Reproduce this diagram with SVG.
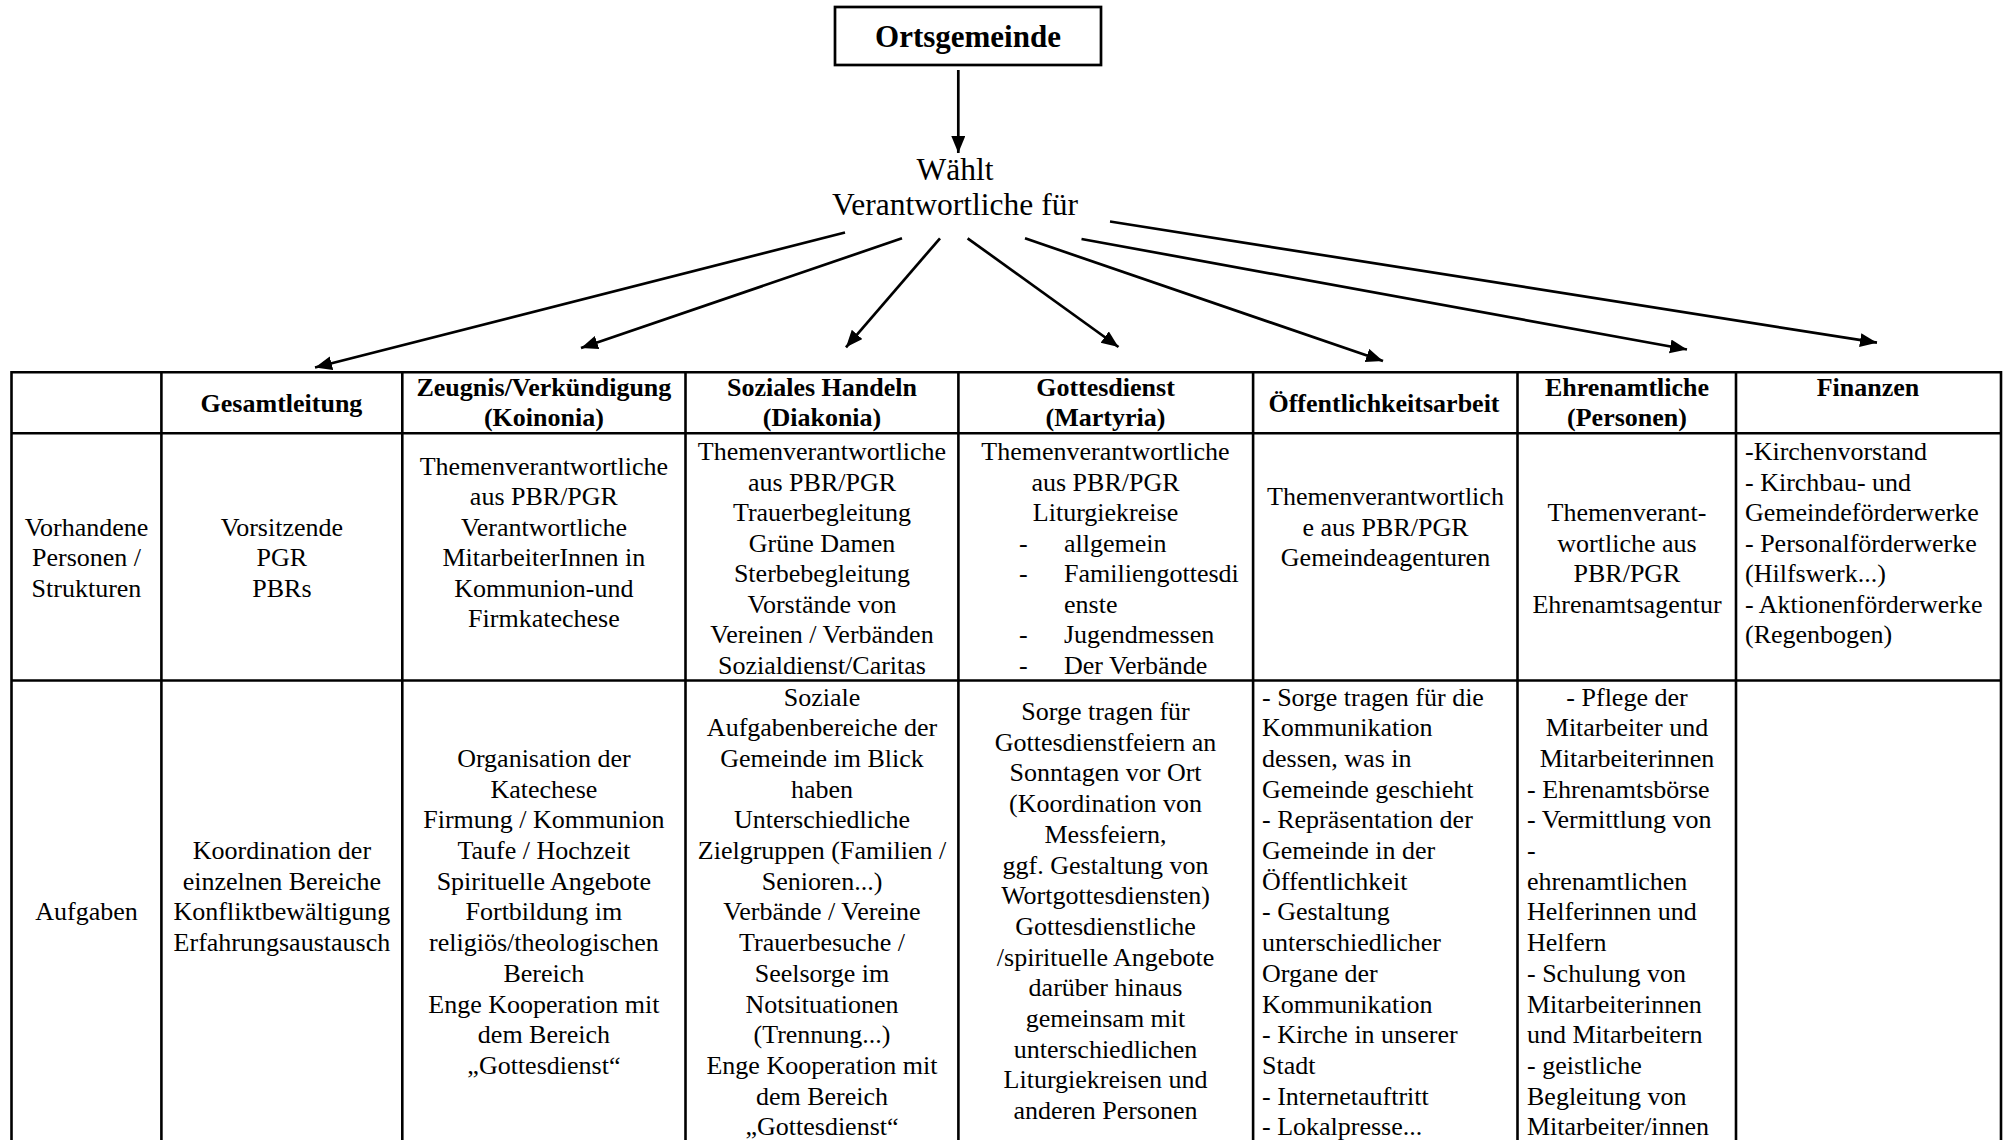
<svg xmlns="http://www.w3.org/2000/svg" width="2009" height="1140" viewBox="0 0 2009 1140">
<style>
text{font-family:"Liberation Serif","Times New Roman",serif;fill:#000}
.t{font-size:31.5px;text-anchor:middle}
.tb{font-size:31px;font-weight:bold;text-anchor:middle}
.b{font-size:26px;font-weight:bold;text-anchor:middle}
.c{font-size:26px;text-anchor:middle}
.l{font-size:26px;text-anchor:start}
.box{fill:#fff;stroke:#000;stroke-width:2.7}
.grid line{stroke:#000;stroke-width:2.6}
.conn line{stroke:#000;stroke-width:2.7;marker-end:url(#ah)}
</style>
<defs>
<marker id="ah" markerUnits="userSpaceOnUse" markerWidth="19" markerHeight="16" refX="17" refY="7" orient="auto">
<path d="M0,0 L17,7 L0,14 z" fill="#000"/>
</marker>
</defs>
<rect width="2009" height="1140" fill="#fff"/>

<g id="node-ortsgemeinde">
<rect class="box" x="835" y="7" width="266" height="58"/>
<text class="tb" x="968" y="47">Ortsgemeinde</text>
</g>

<g id="node-waehlt">
<text class="t"><tspan x="955" y="180">Wählt</tspan><tspan x="955" y="215">Verantwortliche für</tspan></text>
</g>

<g id="connectors" class="conn">
<line x1="958.3" y1="70" x2="958.3" y2="153"/>
<line x1="845" y1="232.5" x2="315" y2="367.5"/>
<line x1="902" y1="238.3" x2="581" y2="348"/>
<line x1="940" y1="238.3" x2="846" y2="347.3"/>
<line x1="967.6" y1="238.3" x2="1118.5" y2="347"/>
<line x1="1025" y1="238.3" x2="1383" y2="361"/>
<line x1="1081.5" y1="239" x2="1687" y2="349.5"/>
<line x1="1110" y1="221.5" x2="1877" y2="342.7"/>
</g>

<g id="table-grid" class="grid">
<line x1="11.5" y1="372.3" x2="2001" y2="372.3"/>
<line x1="11.5" y1="433.3" x2="2001" y2="433.3"/>
<line x1="11.5" y1="680.5" x2="2001" y2="680.5"/>
<line x1="11.5" y1="371" x2="11.5" y2="1145"/>
<line x1="161.4" y1="371" x2="161.4" y2="1145"/>
<line x1="402.3" y1="371" x2="402.3" y2="1145"/>
<line x1="685.5" y1="371" x2="685.5" y2="1145"/>
<line x1="958.4" y1="371" x2="958.4" y2="1145"/>
<line x1="1253.1" y1="371" x2="1253.1" y2="1145"/>
<line x1="1517.5" y1="371" x2="1517.5" y2="1145"/>
<line x1="1736" y1="371" x2="1736" y2="1145"/>
<line x1="2001" y1="371" x2="2001" y2="1145"/>
</g>

<g id="hdr-gesamtleitung"><text class="b" x="281.5" y="412">Gesamtleitung</text></g>
<g id="hdr-zeugnis"><text class="b"><tspan x="543.9" y="396">Zeugnis/Verkündigung</tspan><tspan x="543.9" y="426">(Koinonia)</tspan></text></g>
<g id="hdr-soziales"><text class="b"><tspan x="822" y="396">Soziales Handeln</tspan><tspan x="822" y="426">(Diakonia)</tspan></text></g>
<g id="hdr-gottesdienst"><text class="b"><tspan x="1105.5" y="396">Gottesdienst</tspan><tspan x="1105.5" y="426">(Martyria)</tspan></text></g>
<g id="hdr-oeffentlichkeit"><text class="b" x="1384" y="412">Öffentlichkeitsarbeit</text></g>
<g id="hdr-ehrenamtliche"><text class="b"><tspan x="1627" y="396">Ehrenamtliche</tspan><tspan x="1627" y="426">(Personen)</tspan></text></g>
<g id="hdr-finanzen"><text class="b" x="1868" y="396">Finanzen</text></g>

<g id="row1-label"><text class="c"><tspan x="86.5" y="535.5">Vorhandene</tspan><tspan x="86.5" y="566">Personen /</tspan><tspan x="86.5" y="596.5">Strukturen</tspan></text></g>
<g id="row1-gesamtleitung"><text class="c"><tspan x="281.9" y="535.5">Vorsitzende</tspan><tspan x="281.9" y="566">PGR</tspan><tspan x="281.9" y="596.5">PBRs</tspan></text></g>
<g id="row1-zeugnis"><text class="c"><tspan x="543.9" y="474.5">Themenverantwortliche</tspan><tspan x="543.9" y="505">aus PBR/PGR</tspan><tspan x="543.9" y="535.5">Verantwortliche</tspan><tspan x="543.9" y="566">MitarbeiterInnen in</tspan><tspan x="543.9" y="596.5">Kommunion-und</tspan><tspan x="543.9" y="627">Firmkatechese</tspan></text></g>
<g id="row1-soziales"><text class="c"><tspan x="822" y="460">Themenverantwortliche</tspan><tspan x="822" y="490.5">aus PBR/PGR</tspan><tspan x="822" y="521">Trauerbegleitung</tspan><tspan x="822" y="551.5">Grüne Damen</tspan><tspan x="822" y="582">Sterbebegleitung</tspan><tspan x="822" y="612.5">Vorstände von</tspan><tspan x="822" y="643">Vereinen / Verbänden</tspan><tspan x="822" y="673.5">Sozialdienst/Caritas</tspan></text></g>
<g id="row1-gottesdienst">
<text class="c"><tspan x="1105.5" y="460">Themenverantwortliche</tspan><tspan x="1105.5" y="490.5">aus PBR/PGR</tspan><tspan x="1105.5" y="521">Liturgiekreise</tspan></text>
<text class="l"><tspan x="1019" y="551.5">-</tspan><tspan x="1019" y="582">-</tspan><tspan x="1019" y="643">-</tspan><tspan x="1019" y="673.5">-</tspan></text>
<text class="l"><tspan x="1064" y="551.5">allgemein</tspan><tspan x="1064" y="582">Familiengottesdi</tspan><tspan x="1064" y="612.5">enste</tspan><tspan x="1064" y="643">Jugendmessen</tspan><tspan x="1064" y="673.5">Der Verbände</tspan></text>
</g>
<g id="row1-oeffentlichkeit"><text class="c"><tspan x="1385.5" y="505">Themenverantwortlich</tspan><tspan x="1385.5" y="535.5">e aus PBR/PGR</tspan><tspan x="1385.5" y="566">Gemeindeagenturen</tspan></text></g>
<g id="row1-ehrenamtliche"><text class="c"><tspan x="1627" y="521">Themenverant-</tspan><tspan x="1627" y="551.5">wortliche aus</tspan><tspan x="1627" y="582">PBR/PGR</tspan><tspan x="1627" y="612.5">Ehrenamtsagentur</tspan></text></g>
<g id="row1-finanzen"><text class="l"><tspan x="1745" y="460">-Kirchenvorstand</tspan><tspan x="1745" y="490.5">- Kirchbau- und</tspan><tspan x="1745" y="521">Gemeindeförderwerke</tspan><tspan x="1745" y="551.5">- Personalförderwerke</tspan><tspan x="1745" y="582">(Hilfswerk...)</tspan><tspan x="1745" y="612.5">- Aktionenförderwerke</tspan><tspan x="1745" y="643">(Regenbogen)</tspan></text></g>

<g id="row2-label"><text class="c" x="86.5" y="920.4">Aufgaben</text></g>
<g id="row2-gesamtleitung"><text class="c"><tspan x="281.9" y="859">Koordination der</tspan><tspan x="281.9" y="889.7">einzelnen Bereiche</tspan><tspan x="281.9" y="920.4">Konfliktbewältigung</tspan><tspan x="281.9" y="951.1">Erfahrungsaustausch</tspan></text></g>
<g id="row2-zeugnis"><text class="c"><tspan x="543.9" y="766.9">Organisation der</tspan><tspan x="543.9" y="797.6">Katechese</tspan><tspan x="543.9" y="828.3">Firmung / Kommunion</tspan><tspan x="543.9" y="859">Taufe / Hochzeit</tspan><tspan x="543.9" y="889.7">Spirituelle Angebote</tspan><tspan x="543.9" y="920.4">Fortbildung im</tspan><tspan x="543.9" y="951.1">religiös/theologischen</tspan><tspan x="543.9" y="981.8">Bereich</tspan><tspan x="543.9" y="1012.5">Enge Kooperation mit</tspan><tspan x="543.9" y="1043.2">dem Bereich</tspan><tspan x="543.9" y="1073.9">„Gottesdienst“</tspan></text></g>
<g id="row2-soziales"><text class="c"><tspan x="822" y="705.5">Soziale</tspan><tspan x="822" y="736.2">Aufgabenbereiche der</tspan><tspan x="822" y="766.9">Gemeinde im Blick</tspan><tspan x="822" y="797.6">haben</tspan><tspan x="822" y="828.3">Unterschiedliche</tspan><tspan x="822" y="859">Zielgruppen (Familien /</tspan><tspan x="822" y="889.7">Senioren...)</tspan><tspan x="822" y="920.4">Verbände / Vereine</tspan><tspan x="822" y="951.1">Trauerbesuche /</tspan><tspan x="822" y="981.8">Seelsorge im</tspan><tspan x="822" y="1012.5">Notsituationen</tspan><tspan x="822" y="1043.2">(Trennung...)</tspan><tspan x="822" y="1073.9">Enge Kooperation mit</tspan><tspan x="822" y="1104.6">dem Bereich</tspan><tspan x="822" y="1135.3">„Gottesdienst“</tspan></text></g>
<g id="row2-gottesdienst"><text class="c"><tspan x="1105.5" y="720">Sorge tragen für</tspan><tspan x="1105.5" y="750.7">Gottesdienstfeiern an</tspan><tspan x="1105.5" y="781.4">Sonntagen vor Ort</tspan><tspan x="1105.5" y="812.1">(Koordination von</tspan><tspan x="1105.5" y="842.8">Messfeiern,</tspan><tspan x="1105.5" y="873.5">ggf. Gestaltung von</tspan><tspan x="1105.5" y="904.2">Wortgottesdiensten)</tspan><tspan x="1105.5" y="934.9">Gottesdienstliche</tspan><tspan x="1105.5" y="965.6">/spirituelle Angebote</tspan><tspan x="1105.5" y="996.3">darüber hinaus</tspan><tspan x="1105.5" y="1027">gemeinsam mit</tspan><tspan x="1105.5" y="1057.7">unterschiedlichen</tspan><tspan x="1105.5" y="1088.4">Liturgiekreisen und</tspan><tspan x="1105.5" y="1119.1">anderen Personen</tspan></text></g>
<g id="row2-oeffentlichkeit"><text class="l"><tspan x="1262" y="705.5">- Sorge tragen für die</tspan><tspan x="1262" y="736.2">Kommunikation</tspan><tspan x="1262" y="766.9">dessen, was in</tspan><tspan x="1262" y="797.6">Gemeinde geschieht</tspan><tspan x="1262" y="828.3">- Repräsentation der</tspan><tspan x="1262" y="859">Gemeinde in der</tspan><tspan x="1262" y="889.7">Öffentlichkeit</tspan><tspan x="1262" y="920.4">- Gestaltung</tspan><tspan x="1262" y="951.1">unterschiedlicher</tspan><tspan x="1262" y="981.8">Organe der</tspan><tspan x="1262" y="1012.5">Kommunikation</tspan><tspan x="1262" y="1043.2">- Kirche in unserer</tspan><tspan x="1262" y="1073.9">Stadt</tspan><tspan x="1262" y="1104.6">- Internetauftritt</tspan><tspan x="1262" y="1135.3">- Lokalpresse...</tspan></text></g>
<g id="row2-ehrenamtliche">
<text class="c"><tspan x="1627" y="705.5">- Pflege der</tspan><tspan x="1627" y="736.2">Mitarbeiter und</tspan><tspan x="1627" y="766.9">Mitarbeiterinnen</tspan></text>
<text class="l"><tspan x="1527" y="797.6">- Ehrenamtsbörse</tspan><tspan x="1527" y="828.3">- Vermittlung von</tspan><tspan x="1527" y="859">-</tspan><tspan x="1527" y="889.7">ehrenamtlichen</tspan><tspan x="1527" y="920.4">Helferinnen und</tspan><tspan x="1527" y="951.1">Helfern</tspan><tspan x="1527" y="981.8">- Schulung von</tspan><tspan x="1527" y="1012.5">Mitarbeiterinnen</tspan><tspan x="1527" y="1043.2">und Mitarbeitern</tspan><tspan x="1527" y="1073.9">- geistliche</tspan><tspan x="1527" y="1104.6">Begleitung von</tspan><tspan x="1527" y="1135.3">Mitarbeiter/innen</tspan></text>
</g>
<g id="row2-finanzen"></g>
</svg>
